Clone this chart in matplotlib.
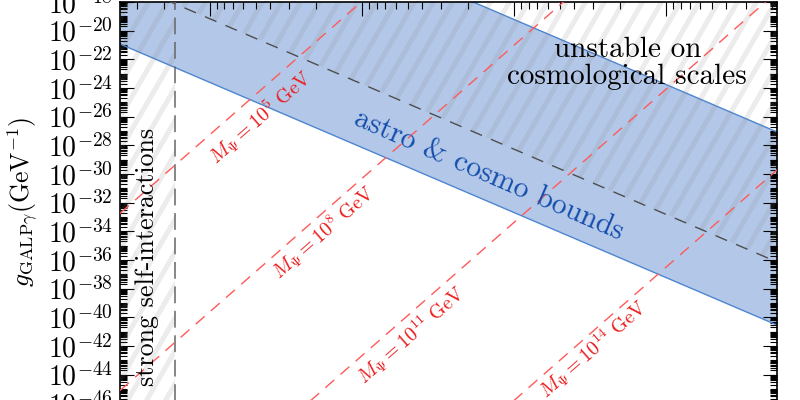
import matplotlib
matplotlib.use('Agg')
import matplotlib.pyplot as plt
import numpy as np
from matplotlib.ticker import FixedLocator, LogLocator, NullFormatter
from matplotlib.collections import LineCollection
from matplotlib.transforms import IdentityTransform

plt.rcParams['mathtext.fontset'] = 'cm'

# ---- data (log10 exponents) ----
x_range_exp = [4.59, 0.27]          # x axis runs from large to small

band_x_exp = [4.59, 0.27]
band_low_exp = [-20.93, -40.54]
band_high_exp = [-7.46, -27.07]

unstable_x_exp = [4.30, 0.27]
unstable_g_exp = [-17.8, -36.14]

selfint_x_exp = 4.228               # strong self-interactions boundary

mpsi_labels = ['10^{5}', '10^{8}', '10^{11}', '10^{14}']
mpsi_g_left_exp = [-32.75, -45.11, -57.47, -69.9]
mpsi_g_right_exp = [7.42, -4.94, -17.30, -29.72]
mpsi_text_x_exp = [3.669, 3.254, 2.676, 1.478]
mpsi_text_g_exp = [-26.03, -34.05, -41.24, -42.21]

y_tick_exp = list(range(-50, -17, 2))


def add_stripes(ax, clip, clip_trans=None):
    # grey diagonal stripes, clipped to a region
    run = 600 / np.tan(np.radians(60))
    segs = [[(c, -100), (c + run, 500)] for c in np.arange(-500, 900, 19)]
    lc = LineCollection(segs, colors=[(0.5, 0.5, 0.5, 0.15)], linewidths=3.6,
                        transform=IdentityTransform(), zorder=2)
    ax.add_collection(lc, autolim=False)
    if clip_trans is None:
        lc.set_clip_path(clip)
    else:
        lc.set_clip_path(clip, clip_trans)


# ---- figure ----
fig = plt.figure(figsize=(8, 4), dpi=100)
ax = fig.add_axes([120 / 800, -0.1515, 657 / 800, 1.1465])
ax.set_xscale('log')
ax.set_yscale('log')

x_lim = [10.0 ** e for e in x_range_exp]
ax.set_xlim(x_lim)
ax.set_ylim(1e-50, 1e-18)

band_x = [10.0 ** e for e in band_x_exp]
ax.fill_between(band_x, [10.0 ** e for e in band_low_exp],
                [10.0 ** e for e in band_high_exp],
                facecolor=(0.70, 0.785, 0.91), edgecolor='none', zorder=1)
ax.plot(band_x, [10.0 ** e for e in band_low_exp], color=(0.30, 0.52, 0.82), lw=1, zorder=2)
ax.plot(band_x, [10.0 ** e for e in band_high_exp], color=(0.30, 0.52, 0.82), lw=1, zorder=2)

# hatched excluded regions
unst_x = [10.0 ** e for e in unstable_x_exp]
unst_g = [10.0 ** e for e in unstable_g_exp]
unst = ax.fill_between(unst_x, unst_g, 1e-18, facecolor='none', edgecolor='none',
                       linewidth=0, zorder=2)
add_stripes(ax, unst.get_paths()[0], ax.transData)
x_si = 10.0 ** selfint_x_exp
si = ax.axvspan(x_si, x_lim[0], facecolor='none', edgecolor='none', linewidth=0)
add_stripes(ax, si)

ax.plot(unst_x, unst_g, color='0.3', lw=1, linestyle=(0, (9, 7)), zorder=3)
ax.axvline(x_si, color='0.4', lw=1.1, linestyle=(0, (11, 5)), zorder=3)

# constant M_Psi lines
for lab, gl, gr, tx, tg in zip(mpsi_labels, mpsi_g_left_exp, mpsi_g_right_exp,
                               mpsi_text_x_exp, mpsi_text_g_exp):
    ax.plot(x_lim, [10.0 ** gl, 10.0 ** gr], color=(1.0, 0.35, 0.35), lw=1,
            linestyle=(0, (8.5, 6)), zorder=3)
    ax.text(10.0 ** tx, 10.0 ** tg, r'$M_\Psi = ' + lab + r'\ \mathrm{GeV}$',
            color=(0.92, 0.1, 0.1), fontsize=14.3, rotation=41.3,
            rotation_mode='anchor', ha='center', va='center', zorder=5)

ax.text(10.0 ** 1.254, 10.0 ** -22.26, 'unstable on\ncosmological scales',
        family='cmr10', fontsize=21, ha='center', va='center',
        linespacing=1.05, zorder=5)
ax.text(10.0 ** 4.412, 10.0 ** -35.8, 'strong self-interactions',
        family='cmr10', fontsize=18.7, rotation=90, ha='center', va='center', zorder=5)
ax.text(10.0 ** 2.169, 10.0 ** -30.07, 'astro & cosmo bounds',
        family='cmr10', fontsize=21.5, color=(0.08, 0.30, 0.68), rotation=-23.5,
        rotation_mode='anchor', ha='center', va='center', zorder=5)

# axes styling
ax.yaxis.set_major_locator(FixedLocator([10.0 ** e for e in y_tick_exp]))
ax.set_yticklabels([r'$\mathtt{10}^{\mathtt{%d}}$' % e for e in y_tick_exp])
ax.yaxis.set_minor_locator(LogLocator(base=10, subs=np.arange(1, 10), numticks=1000))
ax.yaxis.set_minor_formatter(NullFormatter())
ax.xaxis.set_major_locator(LogLocator(base=10, numticks=50))
ax.xaxis.set_minor_locator(LogLocator(base=10, subs=np.arange(2, 10), numticks=500))
ax.xaxis.set_minor_formatter(NullFormatter())
ax.tick_params(which='both', direction='in', top=True, right=True, width=0.8,
               labelbottom=False)
ax.tick_params(which='major', length=10)
ax.tick_params(which='minor', length=5)
ax.tick_params(axis='y', labelsize=20, pad=5)
for sp in ax.spines.values():
    sp.set_linewidth(1.2)

ax.set_ylabel(r'$g_{\mathrm{GALP}\gamma}(\mathrm{GeV}^{-1})$', fontsize=18.5)
ax.yaxis.set_label_coords(-0.122, 0.565)

fig.savefig('out.png', dpi=100)
